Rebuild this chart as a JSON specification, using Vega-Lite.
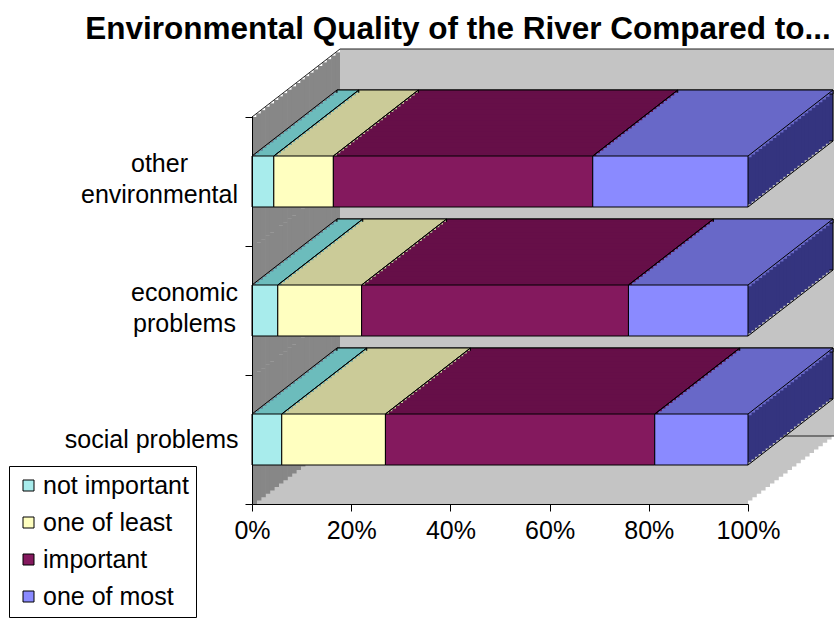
{
  "$schema": "https://vega.github.io/schema/vega-lite/v6.json",
  "width": 496,
  "height": 388,
  "autosize": {"type": "none"},
  "padding": {"left": 252, "top": 116, "right": 86, "bottom": 116},
  "background": "white",
  "title": {
    "text": "Environmental Quality of the River Compared to...",
    "font": "Liberation Sans",
    "fontSize": 31.5,
    "fontWeight": "bold",
    "color": "black",
    "anchor": "middle",
    "dx": -42,
    "offset": 3
  },
  "data": {
    "values": [
      {"category": "other environmental", "response": "not important", "level": 1, "value": 0.044},
      {"category": "other environmental", "response": "one of least", "level": 2, "value": 0.120},
      {"category": "other environmental", "response": "important", "level": 3, "value": 0.523},
      {"category": "other environmental", "response": "one of most", "level": 4, "value": 0.313},
      {"category": "economic problems", "response": "not important", "level": 1, "value": 0.052},
      {"category": "economic problems", "response": "one of least", "level": 2, "value": 0.169},
      {"category": "economic problems", "response": "important", "level": 3, "value": 0.538},
      {"category": "economic problems", "response": "one of most", "level": 4, "value": 0.241},
      {"category": "social problems", "response": "not important", "level": 1, "value": 0.060},
      {"category": "social problems", "response": "one of least", "level": 2, "value": 0.209},
      {"category": "social problems", "response": "important", "level": 3, "value": 0.543},
      {"category": "social problems", "response": "one of most", "level": 4, "value": 0.188}
    ]
  },
  "transform": [
    {"stack": "value", "groupby": ["category"], "sort": [{"field": "level", "order": "ascending"}], "offset": "normalize", "as": ["x0", "x1"]}
  ],
  "encoding": {
    "x": {
      "field": "x0", "type": "quantitative",
      "scale": {"domain": [0, 1], "nice": false},
      "axis": {
        "title": null, "values": [0, 0.2, 0.4, 0.6, 0.8, 1], "format": ".0%",
        "grid": false, "domainColor": "black", "tickColor": "black", "tickSize": 7,
        "labelFont": "Liberation Sans", "labelFontSize": 25, "labelColor": "black",
        "labelPadding": 7, "labelFlush": false, "zindex": 1
      }
    },
    "x2": {"field": "x1"},
    "y": {
      "field": "category", "type": "nominal",
      "scale": {"domain": ["other environmental", "economic problems", "social problems"], "paddingInner": 0, "paddingOuter": 0, "round": true},
      "axis": {
        "title": null, "tickBand": "extent", "tickSize": 7, "domainColor": "black", "tickColor": "black",
        "labelFont": "Liberation Sans", "labelFontSize": 25, "labelColor": "black",
        "labelLineHeight": 31, "labelBaseline": "middle", "labelLimit": 400, "zindex": 1,
        "labelAlign": {"condition": {"test": "datum.value == 'social problems'", "value": "right"}, "value": "center"},
        "labelPadding": {"condition": [
          {"test": "datum.value == 'other environmental'", "value": 86},
          {"test": "datum.value == 'economic problems'", "value": 61}
        ], "value": 7},
        "labelOffset": {"condition": {"test": "datum.value == 'social problems'", "value": 0}, "value": -18.5},
        "labelExpr": "datum.value == 'other environmental' ? ['other', 'environmental'] : datum.value == 'economic problems' ? ['economic', 'problems'] : datum.value"
      }
    }
  },
  "layer": [
    {
      "transform": [{"aggregate": [{"op": "min", "field": "x0", "as": "lo"}, {"op": "max", "field": "x1", "as": "hi"}], "groupby": ["category"]}],
      "encoding": {"x": {"field": "lo", "type": "quantitative"}, "x2": {"field": "hi"}},
      "layer": [
        {"mark": {"type": "bar", "fill": "#c4c4c4", "xOffset": 0, "x2Offset": 0, "yOffset": 0, "y2Offset": 0}},
        {"mark": {"type": "bar", "fill": "#c4c4c4", "xOffset": 4.4, "x2Offset": 4.4, "yOffset": -3.4, "y2Offset": -3.4}},
        {"mark": {"type": "bar", "fill": "#c4c4c4", "xOffset": 8.8, "x2Offset": 8.8, "yOffset": -6.8, "y2Offset": -6.8}},
        {"mark": {"type": "bar", "fill": "#c4c4c4", "xOffset": 13.2, "x2Offset": 13.2, "yOffset": -10.2, "y2Offset": -10.2}},
        {"mark": {"type": "bar", "fill": "#c4c4c4", "xOffset": 17.6, "x2Offset": 17.6, "yOffset": -13.6, "y2Offset": -13.6}},
        {"mark": {"type": "bar", "fill": "#c4c4c4", "xOffset": 22, "x2Offset": 22, "yOffset": -17, "y2Offset": -17}},
        {"mark": {"type": "bar", "fill": "#c4c4c4", "xOffset": 26.4, "x2Offset": 26.4, "yOffset": -20.4, "y2Offset": -20.4}},
        {"mark": {"type": "bar", "fill": "#c4c4c4", "xOffset": 30.8, "x2Offset": 30.8, "yOffset": -23.8, "y2Offset": -23.8}},
        {"mark": {"type": "bar", "fill": "#c4c4c4", "xOffset": 35.2, "x2Offset": 35.2, "yOffset": -27.2, "y2Offset": -27.2}},
        {"mark": {"type": "bar", "fill": "#c4c4c4", "xOffset": 39.6, "x2Offset": 39.6, "yOffset": -30.6, "y2Offset": -30.6}},
        {"mark": {"type": "bar", "fill": "#c4c4c4", "xOffset": 44, "x2Offset": 44, "yOffset": -34, "y2Offset": -34}},
        {"mark": {"type": "bar", "fill": "#c4c4c4", "xOffset": 48.4, "x2Offset": 48.4, "yOffset": -37.4, "y2Offset": -37.4}},
        {"mark": {"type": "bar", "fill": "#c4c4c4", "xOffset": 52.8, "x2Offset": 52.8, "yOffset": -40.8, "y2Offset": -40.8}},
        {"mark": {"type": "bar", "fill": "#c4c4c4", "xOffset": 57.2, "x2Offset": 57.2, "yOffset": -44.2, "y2Offset": -44.2}},
        {"mark": {"type": "bar", "fill": "#c4c4c4", "xOffset": 61.6, "x2Offset": 61.6, "yOffset": -47.6, "y2Offset": -47.6}},
        {"mark": {"type": "bar", "fill": "#c4c4c4", "xOffset": 66, "x2Offset": 66, "yOffset": -51, "y2Offset": -51}},
        {"mark": {"type": "bar", "fill": "#c4c4c4", "xOffset": 70.4, "x2Offset": 70.4, "yOffset": -54.4, "y2Offset": -54.4}},
        {"mark": {"type": "bar", "fill": "#c4c4c4", "xOffset": 74.8, "x2Offset": 74.8, "yOffset": -57.8, "y2Offset": -57.8}},
        {"mark": {"type": "bar", "fill": "#c4c4c4", "xOffset": 79.2, "x2Offset": 79.2, "yOffset": -61.2, "y2Offset": -61.2}},
        {"mark": {"type": "bar", "fill": "#c4c4c4", "xOffset": 83.6, "x2Offset": 83.6, "yOffset": -64.6, "y2Offset": -64.6}},
        {"mark": {"type": "bar", "fill": "#c4c4c4", "xOffset": 88, "x2Offset": 88, "yOffset": -68, "y2Offset": -68}},
        {
          "transform": [{"filter": "datum.category == 'other environmental'"}],
          "mark": {"type": "rule", "stroke": "#222222", "strokeWidth": 1, "xOffset": 88, "x2Offset": 88, "yOffset": -132.5, "y2Offset": -132.5}
        },
        {
          "transform": [{"filter": "datum.category == 'social problems'"}],
          "mark": {"type": "rule", "stroke": "#222222", "strokeWidth": 1, "xOffset": 88, "x2Offset": 88, "yOffset": -3.5, "y2Offset": -3.5}
        },
        {
          "encoding": {"x2": {"field": "lo"}},
          "layer": [
            {"mark": {"type": "bar", "fill": "#878787", "xOffset": 0, "x2Offset": 5, "yOffset": 0, "y2Offset": 0}},
            {"mark": {"type": "bar", "fill": "#878787", "xOffset": 4.4, "x2Offset": 9.4, "yOffset": -3.4, "y2Offset": -3.4}},
            {"mark": {"type": "bar", "fill": "#878787", "xOffset": 8.8, "x2Offset": 13.8, "yOffset": -6.8, "y2Offset": -6.8}},
            {"mark": {"type": "bar", "fill": "#878787", "xOffset": 13.2, "x2Offset": 18.2, "yOffset": -10.2, "y2Offset": -10.2}},
            {"mark": {"type": "bar", "fill": "#878787", "xOffset": 17.6, "x2Offset": 22.6, "yOffset": -13.6, "y2Offset": -13.6}},
            {"mark": {"type": "bar", "fill": "#878787", "xOffset": 22, "x2Offset": 27, "yOffset": -17, "y2Offset": -17}},
            {"mark": {"type": "bar", "fill": "#878787", "xOffset": 26.4, "x2Offset": 31.4, "yOffset": -20.4, "y2Offset": -20.4}},
            {"mark": {"type": "bar", "fill": "#878787", "xOffset": 30.8, "x2Offset": 35.8, "yOffset": -23.8, "y2Offset": -23.8}},
            {"mark": {"type": "bar", "fill": "#878787", "xOffset": 35.2, "x2Offset": 40.2, "yOffset": -27.2, "y2Offset": -27.2}},
            {"mark": {"type": "bar", "fill": "#878787", "xOffset": 39.6, "x2Offset": 44.6, "yOffset": -30.6, "y2Offset": -30.6}},
            {"mark": {"type": "bar", "fill": "#878787", "xOffset": 44, "x2Offset": 49, "yOffset": -34, "y2Offset": -34}},
            {"mark": {"type": "bar", "fill": "#878787", "xOffset": 48.4, "x2Offset": 53.4, "yOffset": -37.4, "y2Offset": -37.4}},
            {"mark": {"type": "bar", "fill": "#878787", "xOffset": 52.8, "x2Offset": 57.8, "yOffset": -40.8, "y2Offset": -40.8}},
            {"mark": {"type": "bar", "fill": "#878787", "xOffset": 57.2, "x2Offset": 62.2, "yOffset": -44.2, "y2Offset": -44.2}},
            {"mark": {"type": "bar", "fill": "#878787", "xOffset": 61.6, "x2Offset": 66.6, "yOffset": -47.6, "y2Offset": -47.6}},
            {"mark": {"type": "bar", "fill": "#878787", "xOffset": 66, "x2Offset": 71, "yOffset": -51, "y2Offset": -51}},
            {"mark": {"type": "bar", "fill": "#878787", "xOffset": 70.4, "x2Offset": 75.4, "yOffset": -54.4, "y2Offset": -54.4}},
            {"mark": {"type": "bar", "fill": "#878787", "xOffset": 74.8, "x2Offset": 79.8, "yOffset": -57.8, "y2Offset": -57.8}},
            {"mark": {"type": "bar", "fill": "#878787", "xOffset": 79.2, "x2Offset": 84.2, "yOffset": -61.2, "y2Offset": -61.2}},
            {"mark": {"type": "bar", "fill": "#878787", "xOffset": 83.6, "x2Offset": 88, "yOffset": -64.6, "y2Offset": -64.6}},
            {
              "transform": [{"filter": "datum.category == 'other environmental'"}],
              "mark": {"type": "rule", "stroke": "#222222", "strokeWidth": 1, "yOffset": -64.5, "y2Offset": -132.5, "x2Offset": 88},
              "encoding": {"y2": {"field": "category"}}
            }
          ]
        }
      ]
    },
    {
      "layer": [
        {"mark": {"type": "bar", "height": 51, "fill": "#34347f", "stroke": "black", "strokeWidth": 1, "xOffset": 85, "x2Offset": 85, "yOffset": -66, "y2Offset": -66}},
        {"mark": {"type": "bar", "height": 51, "fill": "#34347f", "xOffset": 81.46, "x2Offset": 81.46, "yOffset": -63.25, "y2Offset": -63.25}},
        {"mark": {"type": "bar", "height": 51, "fill": "#34347f", "xOffset": 77.92, "x2Offset": 77.92, "yOffset": -60.5, "y2Offset": -60.5}},
        {"mark": {"type": "bar", "height": 51, "fill": "#34347f", "xOffset": 74.38, "x2Offset": 74.38, "yOffset": -57.75, "y2Offset": -57.75}},
        {"mark": {"type": "bar", "height": 51, "fill": "#34347f", "xOffset": 70.83, "x2Offset": 70.83, "yOffset": -55, "y2Offset": -55}},
        {"mark": {"type": "bar", "height": 51, "fill": "#34347f", "xOffset": 67.29, "x2Offset": 67.29, "yOffset": -52.25, "y2Offset": -52.25}},
        {"mark": {"type": "bar", "height": 51, "fill": "#34347f", "xOffset": 63.75, "x2Offset": 63.75, "yOffset": -49.5, "y2Offset": -49.5}},
        {"mark": {"type": "bar", "height": 51, "fill": "#34347f", "xOffset": 60.21, "x2Offset": 60.21, "yOffset": -46.75, "y2Offset": -46.75}},
        {"mark": {"type": "bar", "height": 51, "fill": "#34347f", "xOffset": 56.67, "x2Offset": 56.67, "yOffset": -44, "y2Offset": -44}},
        {"mark": {"type": "bar", "height": 51, "fill": "#34347f", "xOffset": 53.13, "x2Offset": 53.13, "yOffset": -41.25, "y2Offset": -41.25}},
        {"mark": {"type": "bar", "height": 51, "fill": "#34347f", "xOffset": 49.58, "x2Offset": 49.58, "yOffset": -38.5, "y2Offset": -38.5}},
        {"mark": {"type": "bar", "height": 51, "fill": "#34347f", "xOffset": 46.04, "x2Offset": 46.04, "yOffset": -35.75, "y2Offset": -35.75}},
        {"mark": {"type": "bar", "height": 51, "fill": "#34347f", "xOffset": 42.5, "x2Offset": 42.5, "yOffset": -33, "y2Offset": -33}},
        {"mark": {"type": "bar", "height": 51, "fill": "#34347f", "xOffset": 38.96, "x2Offset": 38.96, "yOffset": -30.25, "y2Offset": -30.25}},
        {"mark": {"type": "bar", "height": 51, "fill": "#34347f", "xOffset": 35.42, "x2Offset": 35.42, "yOffset": -27.5, "y2Offset": -27.5}},
        {"mark": {"type": "bar", "height": 51, "fill": "#34347f", "xOffset": 31.88, "x2Offset": 31.88, "yOffset": -24.75, "y2Offset": -24.75}},
        {"mark": {"type": "bar", "height": 51, "fill": "#34347f", "xOffset": 28.33, "x2Offset": 28.33, "yOffset": -22, "y2Offset": -22}},
        {"mark": {"type": "bar", "height": 51, "fill": "#34347f", "xOffset": 24.79, "x2Offset": 24.79, "yOffset": -19.25, "y2Offset": -19.25}},
        {"mark": {"type": "bar", "height": 51, "fill": "#34347f", "xOffset": 21.25, "x2Offset": 21.25, "yOffset": -16.5, "y2Offset": -16.5}},
        {"mark": {"type": "bar", "height": 51, "fill": "#34347f", "xOffset": 17.71, "x2Offset": 17.71, "yOffset": -13.75, "y2Offset": -13.75}},
        {"mark": {"type": "bar", "height": 51, "fill": "#34347f", "xOffset": 14.17, "x2Offset": 14.17, "yOffset": -11, "y2Offset": -11}},
        {"mark": {"type": "bar", "height": 51, "fill": "#34347f", "xOffset": 10.63, "x2Offset": 10.63, "yOffset": -8.25, "y2Offset": -8.25}},
        {"mark": {"type": "bar", "height": 51, "fill": "#34347f", "xOffset": 7.08, "x2Offset": 7.08, "yOffset": -5.5, "y2Offset": -5.5}},
        {"mark": {"type": "bar", "height": 51, "fill": "#34347f", "xOffset": 3.54, "x2Offset": 3.54, "yOffset": -2.75, "y2Offset": -2.75}}
      ]
    },
    {
      "encoding": {
        "fill": {
          "field": "response", "type": "nominal", "legend": null,
          "scale": {"domain": ["one of most", "important", "one of least", "not important"], "range": ["#6868c8", "#660f48", "#cbcb98", "#6cbcbc"]}
        }
      },
      "layer": [
        {"mark": {"type": "bar", "height": 4, "stroke": "black", "strokeWidth": 1, "xOffset": 85, "x2Offset": 85, "yOffset": -89.5, "y2Offset": -89.5}},
        {"mark": {"type": "bar", "height": 4, "xOffset": 81.46, "x2Offset": 81.46, "yOffset": -86.75, "y2Offset": -86.75}},
        {"mark": {"type": "bar", "height": 4, "xOffset": 77.92, "x2Offset": 77.92, "yOffset": -84, "y2Offset": -84}},
        {"mark": {"type": "bar", "height": 4, "xOffset": 74.38, "x2Offset": 74.38, "yOffset": -81.25, "y2Offset": -81.25}},
        {"mark": {"type": "bar", "height": 4, "xOffset": 70.83, "x2Offset": 70.83, "yOffset": -78.5, "y2Offset": -78.5}},
        {"mark": {"type": "bar", "height": 4, "xOffset": 67.29, "x2Offset": 67.29, "yOffset": -75.75, "y2Offset": -75.75}},
        {"mark": {"type": "bar", "height": 4, "xOffset": 63.75, "x2Offset": 63.75, "yOffset": -73, "y2Offset": -73}},
        {"mark": {"type": "bar", "height": 4, "xOffset": 60.21, "x2Offset": 60.21, "yOffset": -70.25, "y2Offset": -70.25}},
        {"mark": {"type": "bar", "height": 4, "xOffset": 56.67, "x2Offset": 56.67, "yOffset": -67.5, "y2Offset": -67.5}},
        {"mark": {"type": "bar", "height": 4, "xOffset": 53.13, "x2Offset": 53.13, "yOffset": -64.75, "y2Offset": -64.75}},
        {"mark": {"type": "bar", "height": 4, "xOffset": 49.58, "x2Offset": 49.58, "yOffset": -62, "y2Offset": -62}},
        {"mark": {"type": "bar", "height": 4, "xOffset": 46.04, "x2Offset": 46.04, "yOffset": -59.25, "y2Offset": -59.25}},
        {"mark": {"type": "bar", "height": 4, "xOffset": 42.5, "x2Offset": 42.5, "yOffset": -56.5, "y2Offset": -56.5}},
        {"mark": {"type": "bar", "height": 4, "xOffset": 38.96, "x2Offset": 38.96, "yOffset": -53.75, "y2Offset": -53.75}},
        {"mark": {"type": "bar", "height": 4, "xOffset": 35.42, "x2Offset": 35.42, "yOffset": -51, "y2Offset": -51}},
        {"mark": {"type": "bar", "height": 4, "xOffset": 31.88, "x2Offset": 31.88, "yOffset": -48.25, "y2Offset": -48.25}},
        {"mark": {"type": "bar", "height": 4, "xOffset": 28.33, "x2Offset": 28.33, "yOffset": -45.5, "y2Offset": -45.5}},
        {"mark": {"type": "bar", "height": 4, "xOffset": 24.79, "x2Offset": 24.79, "yOffset": -42.75, "y2Offset": -42.75}},
        {"mark": {"type": "bar", "height": 4, "xOffset": 21.25, "x2Offset": 21.25, "yOffset": -40, "y2Offset": -40}},
        {"mark": {"type": "bar", "height": 4, "xOffset": 17.71, "x2Offset": 17.71, "yOffset": -37.25, "y2Offset": -37.25}},
        {"mark": {"type": "bar", "height": 4, "xOffset": 14.17, "x2Offset": 14.17, "yOffset": -34.5, "y2Offset": -34.5}},
        {"mark": {"type": "bar", "height": 4, "xOffset": 10.63, "x2Offset": 10.63, "yOffset": -31.75, "y2Offset": -31.75}},
        {"mark": {"type": "bar", "height": 4, "xOffset": 7.08, "x2Offset": 7.08, "yOffset": -29, "y2Offset": -29}},
        {"mark": {"type": "bar", "height": 4, "xOffset": 3.54, "x2Offset": 3.54, "yOffset": -26.25, "y2Offset": -26.25}},
        {"mark": {"type": "bar", "height": 4, "xOffset": 0, "x2Offset": 0, "yOffset": -23.5, "y2Offset": -23.5}}
      ]
    },
    {
      "mark": {"type": "bar", "height": 51, "stroke": "black", "strokeWidth": 1},
      "encoding": {
        "color": {
          "field": "response", "type": "nominal",
          "scale": {"domain": ["not important", "one of least", "important", "one of most"], "range": ["#a8ecec", "#ffffc0", "#84195e", "#8a8aff"]},
          "legend": {
            "title": null, "orient": "none", "legendX": -243, "legendY": 350, "direction": "vertical",
            "fillColor": "white", "strokeColor": "black", "padding": 7,
            "symbolType": "square", "symbolSize": 121, "symbolStrokeColor": "black", "symbolStrokeWidth": 1,
            "labelFont": "Liberation Sans", "labelFontSize": 25, "labelColor": "black",
            "labelOffset": 2, "rowPadding": 11, "labelLimit": 300
          }
        }
      }
    },
    {
      "mark": {"type": "rule", "stroke": "black", "strokeWidth": 1, "yOffset": -25.5, "y2Offset": -91.5, "x2Offset": 85},
      "encoding": {"x2": {"field": "x0"}, "y2": {"field": "category"}}
    },
    {
      "mark": {"type": "rule", "stroke": "black", "strokeWidth": 1, "yOffset": -25.5, "y2Offset": -91.5, "x2Offset": 85},
      "encoding": {"x": {"field": "x1", "type": "quantitative"}, "x2": {"field": "x1"}, "y2": {"field": "category"}}
    },
    {
      "transform": [{"filter": "datum.level == 4"}],
      "mark": {"type": "rule", "stroke": "black", "strokeWidth": 1, "yOffset": 25.5, "y2Offset": -40.5, "x2Offset": 85},
      "encoding": {"x": {"field": "x1", "type": "quantitative"}, "x2": {"field": "x1"}, "y2": {"field": "category"}}
    }
  ],
  "config": {
    "view": {"stroke": null},
    "font": "Liberation Sans"
  }
}
